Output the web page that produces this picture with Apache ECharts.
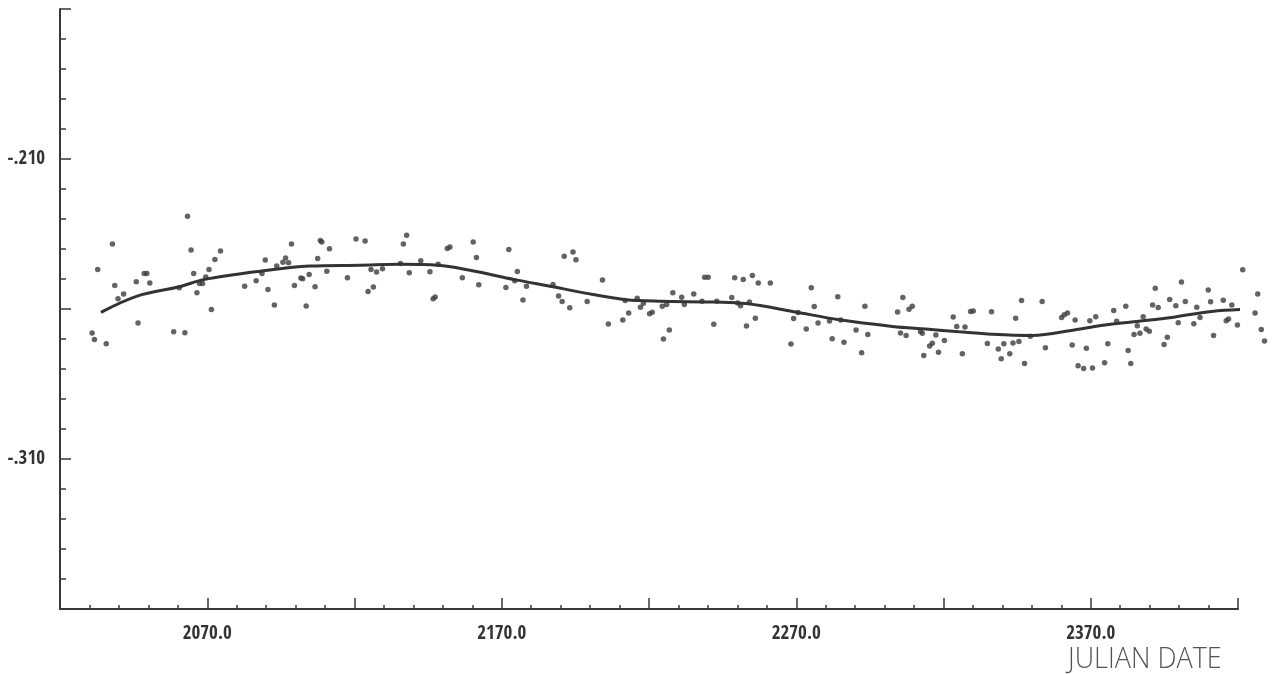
<!DOCTYPE html>
<html>
<head>
<meta charset="utf-8">
<script src="https://cdn.jsdelivr.net/npm/echarts@6/dist/echarts.min.js"></script>
<style>
  html, body { margin: 0; padding: 0; background: #ffffff; }
  #chart { width: 1276px; height: 674px; }
</style>
</head>
<body>
<div id="chart"></div>
<script>
// ---- data ----
const xMin = 2020, xMax = 2420;
const yMin = -0.36, yMax = -0.16;
const xTickLabels = { 2070: '2070.0', 2170: '2170.0', 2270: '2270.0', 2370: '2370.0' };
const yTickLabels = { '-0.21': '-.210', '-0.31': '-.310' };
const xAxisTitle = 'JULIAN DATE';

// observations [julian date, value]
const observationsA = [
  [2030.9,-0.2680],[2031.7,-0.2702],[2035.7,-0.2716],[2032.8,-0.2468],[2037.8,-0.2383],
  [2038.6,-0.2522],[2039.7,-0.2566],[2041.6,-0.2550],[2046.5,-0.2647],[2045.9,-0.2509],
  [2048.6,-0.2482],[2049.5,-0.2482],[2050.5,-0.2513],[2058.6,-0.2676],[2062.4,-0.2679],
  [2060.5,-0.2529],[2063.3,-0.2291],[2064.5,-0.2403],[2065.4,-0.2482],[2066.5,-0.2546],
  [2067.4,-0.2515],[2068.4,-0.2515],[2069.5,-0.2493],[2070.6,-0.2468],[2071.4,-0.2602],
  [2072.6,-0.2435],[2074.5,-0.2407],[2082.7,-0.2524],[2086.6,-0.2506],[2088.6,-0.2482],
  [2089.7,-0.2437],[2090.6,-0.2535],[2092.8,-0.2587],[2093.6,-0.2457],[2095.7,-0.2444],
  [2096.6,-0.2430],[2097.6,-0.2446],[2098.6,-0.2383],[2099.6,-0.2522],[2101.8,-0.2497],
  [2102.4,-0.2499],[2103.6,-0.2590],[2104.6,-0.2485],[2106.6,-0.2526],[2107.5,-0.2432],
  [2108.4,-0.2372],[2108.9,-0.2377],[2110.6,-0.2474],[2111.5,-0.2399],[2117.6,-0.2496],
  [2120.5,-0.2367]
];
const observationsB = [
  [2123.6,-0.2373],[2137.7,-0.2354],[2136.6,-0.2383],[2124.6,-0.2542],[2126.4,-0.2527],
  [2125.6,-0.2468],[2127.5,-0.2477],[2129.5,-0.2466],[2135.6,-0.2448],[2138.6,-0.2479],
  [2142.5,-0.2439],[2145.6,-0.2476],[2146.7,-0.2566],[2147.4,-0.2560],[2148.4,-0.2451],
  [2151.5,-0.2398],[2152.4,-0.2393],[2156.6,-0.2496],[2160.3,-0.2377],[2161.4,-0.2428],
  [2162.2,-0.2519],[2171.4,-0.2528],[2172.4,-0.2402],[2174.4,-0.2506],[2175.3,-0.2475],
  [2177.2,-0.2570],[2178.4,-0.2524],[2187.4,-0.2518],[2189.3,-0.2557],[2190.5,-0.2575],
  [2191.2,-0.2424],[2193.1,-0.2596],[2194.2,-0.2410],[2195.2,-0.2436],[2199.0,-0.2575],
  [2204.2,-0.2503],[2206.2,-0.2650],[2211.1,-0.2637],[2211.9,-0.2572],[2213.1,-0.2613],
  [2216.0,-0.2564],[2217.1,-0.2594],[2218.1,-0.2581],[2220.2,-0.2616],[2221.1,-0.2611]
];
const observationsC = [
  [2224.5,-0.2591],[2226.0,-0.2585],[2224.9,-0.2700],[2226.9,-0.2670],[2228.1,-0.2546],
  [2231.1,-0.2561],[2232.0,-0.2585],[2235.2,-0.2550],[2238.0,-0.2574],[2238.9,-0.2494],
  [2240.1,-0.2494],[2242.0,-0.2651],[2243.0,-0.2574],[2248.1,-0.2562],[2249.1,-0.2496],
  [2250.1,-0.2580],[2251.1,-0.2589],[2252.0,-0.2502],[2253.1,-0.2657],[2254.1,-0.2577],
  [2255.1,-0.2488],[2256.1,-0.2631],[2257.1,-0.2513],[2261.2,-0.2513],[2268.2,-0.2717],
  [2269.1,-0.2632],[2270.6,-0.2612],[2273.4,-0.2667],[2275.1,-0.2529],[2276.1,-0.2592],
  [2277.4,-0.2647],[2281.3,-0.2640],[2282.2,-0.2699],[2284.1,-0.2559],[2285.1,-0.2637],
  [2286.2,-0.2711],[2290.3,-0.2670],[2292.2,-0.2746],[2293.3,-0.2591],[2294.3,-0.2685],
  [2304.4,-0.2610],[2305.4,-0.2680],[2306.2,-0.2562],[2307.3,-0.2688],[2308.3,-0.2601],
  [2309.4,-0.2591],[2312.2,-0.2675],[2312.8,-0.2681],[2313.3,-0.2755],[2315.3,-0.2723],
  [2316.2,-0.2714],[2317.4,-0.2687],[2318.3,-0.2744],[2320.3,-0.2705],[2323.3,-0.2627],
  [2324.5,-0.2658]
];
const observationsD = [
  [2326.4,-0.2749],[2327.3,-0.2660],[2329.2,-0.2608],[2330.1,-0.2607],[2336.3,-0.2609],
  [2334.9,-0.2715],[2338.6,-0.2733],[2339.6,-0.2766],[2340.5,-0.2716],[2342.5,-0.2749],
  [2343.6,-0.2713],[2344.5,-0.2631],[2345.6,-0.2708],[2346.5,-0.2572],[2347.5,-0.2782],
  [2349.5,-0.2691],[2353.5,-0.2575],[2354.6,-0.2729],[2360.1,-0.2628],[2361.0,-0.2619],
  [2362.1,-0.2613],[2363.7,-0.2720],[2364.7,-0.2637],[2365.7,-0.2789],[2367.6,-0.2798],
  [2368.5,-0.2731],[2369.7,-0.2639],[2370.6,-0.2797],[2371.7,-0.2626],[2374.7,-0.2779],
  [2375.8,-0.2716],[2377.8,-0.2605],[2378.8,-0.2641],[2381.9,-0.2591],[2382.7,-0.2738],
  [2383.6,-0.2782],[2384.7,-0.2685],[2385.8,-0.2656],[2386.7,-0.2681],[2387.8,-0.2626],
  [2388.8,-0.2667],[2389.9,-0.2674],[2391.0,-0.2587],[2391.9,-0.2531],[2392.9,-0.2595],
  [2394.9,-0.2718],[2396.0,-0.2694],[2396.8,-0.2568],[2398.9,-0.2589],[2399.7,-0.2646],
  [2400.8,-0.2510],[2402.1,-0.2575],[2405.0,-0.2649],[2406.0,-0.2594],[2407.1,-0.2628],
  [2409.9,-0.2537],[2410.7,-0.2576],[2411.7,-0.2688],[2415.0,-0.2571],[2416.0,-0.2639],
  [2416.8,-0.2633],[2417.9,-0.2587],[2419.8,-0.2653],[2421.6,-0.2469],[2425.8,-0.2613],
  [2426.7,-0.2550],[2427.9,-0.2668],[2429.0,-0.2707]
];

// fitted curve [julian date, value]
const fitCurve = [
  [2033.9,-0.2611],[2046.2,-0.2557],[2060.5,-0.2526],[2068.8,-0.2502],[2088.0,-0.2474],
  [2104.9,-0.2457],[2121.9,-0.2454],[2135.4,-0.2451],[2148.4,-0.2454],[2159.2,-0.2471],
  [2174.4,-0.2502],[2187.4,-0.2526],[2201.0,-0.2552],[2212.3,-0.2569],[2223.6,-0.2574],
  [2242.8,-0.2577],[2252.9,-0.2582],[2268.8,-0.2608],[2284.6,-0.2636],[2302.7,-0.2658],
  [2314.0,-0.2667],[2325.3,-0.2676],[2336.6,-0.2684],[2350.1,-0.2688],[2364.8,-0.2669],
  [2376.1,-0.2652],[2386.3,-0.2641],[2397.6,-0.2628],[2411.1,-0.2608],[2427.0,-0.2600]
];

const observations = observationsA.concat(observationsB, observationsC, observationsD);

// ---- chart ----
const ink = '#383838';
const labelFont = {
  color: '#333333',
  fontFamily: '"Open Sans Condensed", "Open Sans", sans-serif',
  fontWeight: 'bold',
  fontSize: 19
};

const chart = echarts.init(document.getElementById('chart'), null, { renderer: 'canvas' });
chart.setOption({
  animation: false,
  backgroundColor: '#ffffff',
  grid: { left: 60, right: 38, top: 9, bottom: 65, containLabel: false, outerBoundsMode: 'none' },
  xAxis: [
    {
      type: 'value', min: xMin, max: xMax, interval: 10, position: 'bottom',
      axisLine: { show: true, onZero: false, lineStyle: { color: ink, width: 2 } },
      axisTick: { show: true, inside: true, length: 4, lineStyle: { color: ink, width: 1.5 } },
      axisLabel: { show: false },
      splitLine: { show: false }
    },
    {
      type: 'value', min: 0, max: xMax - xMin, interval: 50, position: 'bottom', offset: 0,
      axisLine: { show: false, onZero: false },
      axisTick: { show: true, inside: true, length: 11, lineStyle: { color: ink, width: 1.5 } },
      axisLabel: Object.assign({
        show: true, margin: 16,
        formatter: function (v) { return xTickLabels[Math.round(v + xMin)] || ''; }
      }, labelFont),
      splitLine: { show: false }
    }
  ],
  yAxis: [
    {
      type: 'value', min: yMin, max: yMax, interval: 0.01, position: 'left',
      axisLine: { show: true, onZero: false, lineStyle: { color: ink, width: 2 } },
      axisTick: { show: true, inside: true, length: 6, lineStyle: { color: ink, width: 1.5 } },
      axisLabel: { show: false },
      splitLine: { show: false }
    },
    {
      type: 'value', min: 0, max: +(yMax - yMin).toFixed(3), interval: 0.05, position: 'left', offset: 0,
      axisLine: { show: false, onZero: false },
      axisTick: { show: true, inside: true, length: 11, lineStyle: { color: ink, width: 1.5 } },
      axisLabel: Object.assign({
        show: true, margin: 15,
        formatter: function (v) { return yTickLabels[String(+(v + yMin).toFixed(2))] || ''; }
      }, labelFont),
      splitLine: { show: false }
    }
  ],
  graphic: [
    {
      type: 'text', x: 1068, y: 644, scaleY: 1.12,
      style: {
        text: xAxisTitle,
        fill: '#555555',
        font: '300 27px "Open Sans"'
      }
    }
  ],
  series: [
    {
      type: 'scatter', xAxisIndex: 0, yAxisIndex: 0,
      data: observations, symbol: 'circle', symbolSize: 5.5, clip: false,
      itemStyle: { color: '#3c3c3c' }, silent: true
    },
    {
      type: 'line', xAxisIndex: 0, yAxisIndex: 0,
      data: fitCurve, smooth: 0.35, showSymbol: false, clip: false,
      lineStyle: { color: '#333333', width: 3 }, silent: true
    }
  ]
});
</script>
</body>
</html>
